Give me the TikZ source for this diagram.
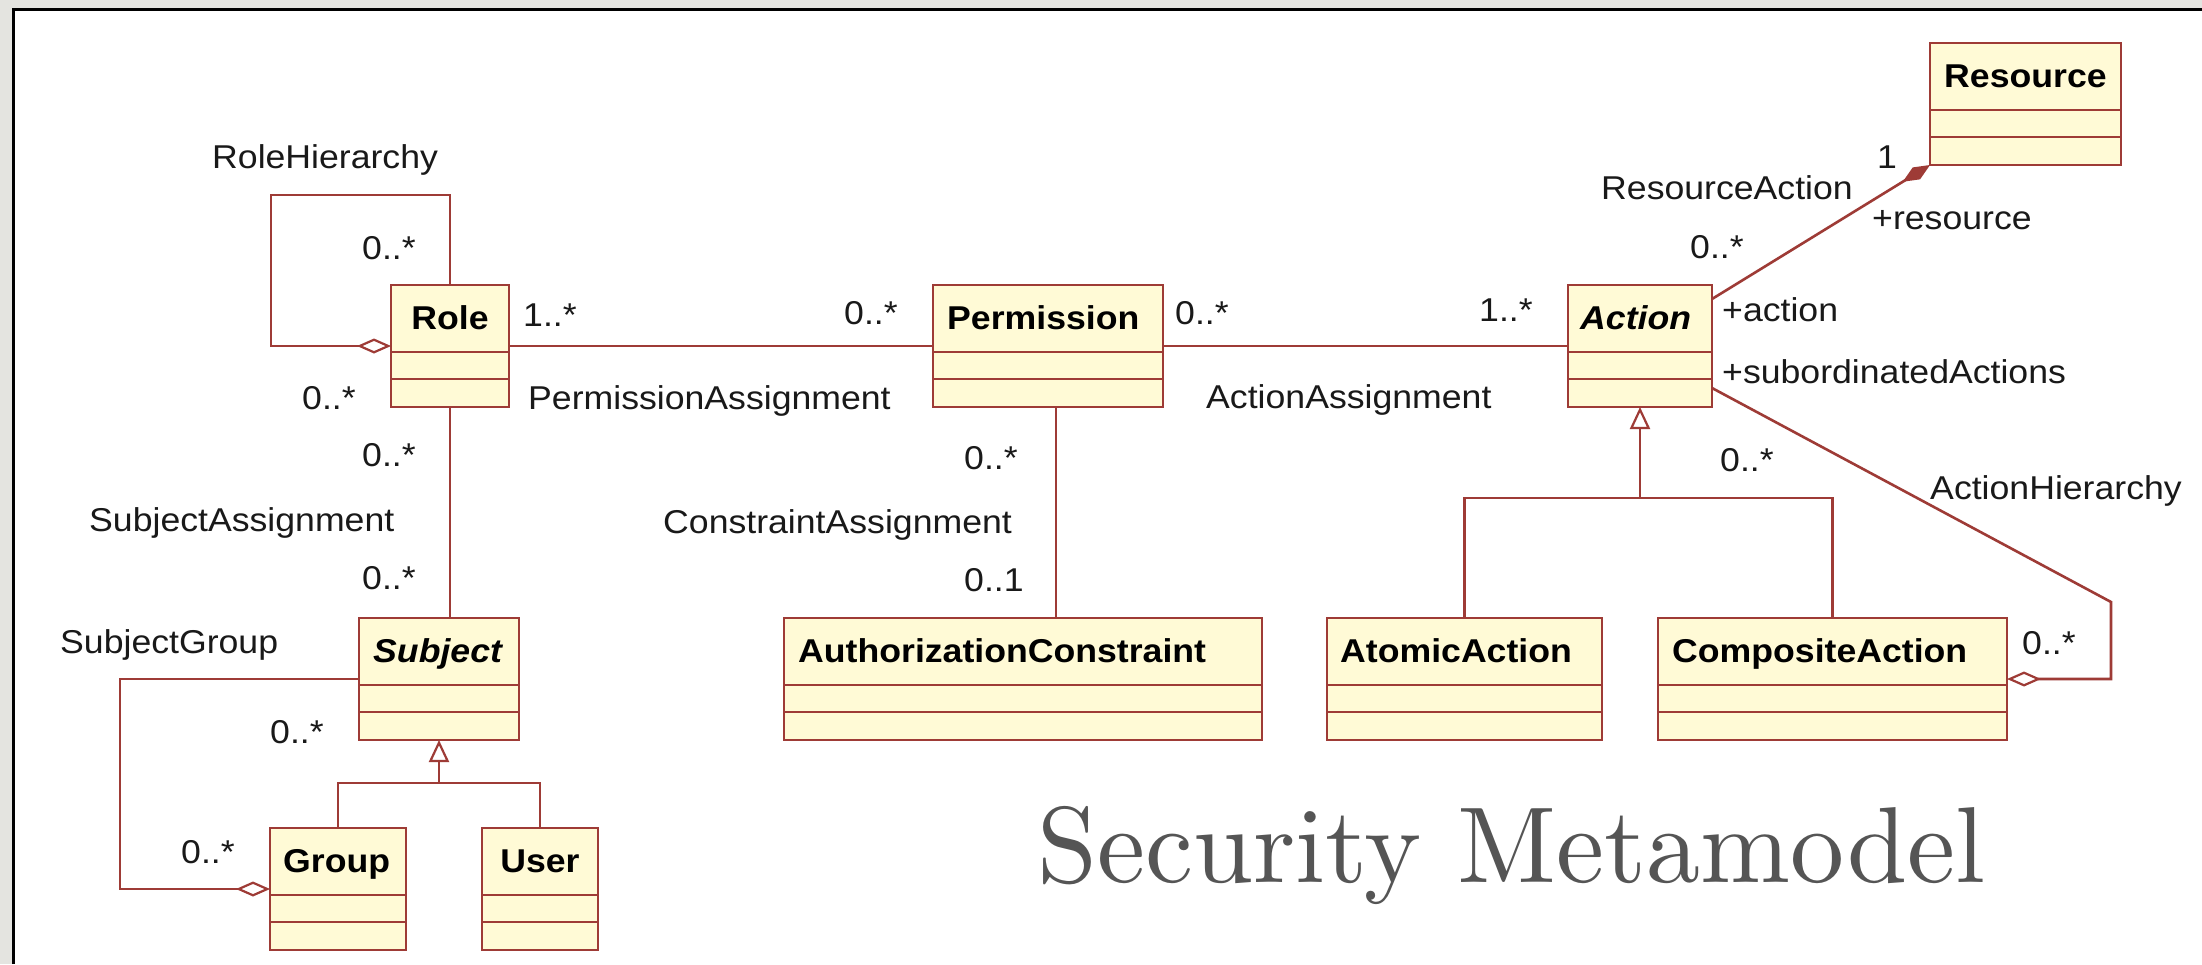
\documentclass[tikz,border=0pt]{standalone}
\usepackage{fontspec}
\usetikzlibrary{arrows.meta,calc}

\newfontfamily\umlfont[FakeStretch=1.08]{Liberation Sans}
\newfontfamily\titlefont{lmroman10-regular.otf}
\newcommand\umlsize{\fontsize{33}{36}\selectfont}

\definecolor{umlline}{RGB}{158,59,54}
\definecolor{umlfill}{RGB}{255,250,214}
\definecolor{pagegray}{RGB}{228,228,224}
\definecolor{titlegray}{RGB}{85,85,85}
\definecolor{labeltext}{RGB}{25,25,25}

\tikzset{
  cls/.style={draw=umlline, fill=umlfill, line width=2.6pt, inner sep=0pt,
              outer sep=0pt, minimum height=122pt},
  divider/.style={draw=umlline, line width=2.4pt},
  assoc/.style={draw=umlline, line width=2.6pt},
  clsname/.style={font=\umlfont\umlsize\bfseries, inner sep=0pt, anchor=base west, text=black},
  clsabstract/.style={clsname, font=\umlfont\umlsize\bfseries\itshape},
  lbl/.style={font=\umlfont\umlsize, inner sep=0pt, anchor=base west, text=labeltext},
  agg/.style={-{Diamond[open, length=34pt, width=15pt, line width=2.2pt]}},
  compo/.style={-{Diamond[length=32pt, width=14pt, fill=umlline]}},
  gen/.style={-{Triangle[open, length=22pt, width=20pt, line width=2.2pt]}},
}

% the two attribute/operation rules below a class header
\newcommand\classrules[1]{%
  \draw[divider] ($(#1.north west)+(0,67)$) -- ($(#1.north east)+(0,67)$);
  \draw[divider] ($(#1.north west)+(0,94)$) -- ($(#1.north east)+(0,94)$);
}

\begin{document}
\begin{tikzpicture}[x=1pt, y=-1pt]
\useasboundingbox (0,0) rectangle (2202,964);

% page frame
\fill[pagegray] (0,0) rectangle (2202,964);
\fill[white] (13,9) rectangle (2202,964);
\draw[black, line width=3pt] (13,964) -- (13,9) -- (2202,9);

% classes
\node[cls, minimum width=118pt] (role)       at (450,346)    {};
\node[cls, minimum width=230pt] (permission) at (1048,346)   {};
\node[cls, minimum width=144pt] (action)     at (1640,346)   {};
\node[cls, minimum width=191pt] (resource)   at (2025.5,104) {};
\node[cls, minimum width=160pt] (subject)    at (439,679)    {};
\node[cls, minimum width=478pt] (authc)      at (1023,679)   {};
\node[cls, minimum width=275pt] (atomic)     at (1464.5,679) {};
\node[cls, minimum width=349pt] (composite)  at (1832.5,679) {};
\node[cls, minimum width=136pt] (group)      at (338,889)    {};
\node[cls, minimum width=116pt] (user)       at (540,889)    {};

\classrules{role}
\classrules{permission}
\classrules{action}
\classrules{resource}
\classrules{subject}
\classrules{authc}
\classrules{atomic}
\classrules{composite}
\classrules{group}
\classrules{user}

% class names
\node[clsname, anchor=base] (roleN) at (450,329) {Role};
\node[clsname] (permissionN) at (947,329)  {Permission};
\node[clsabstract] (actionN) at (1580,329) {Action};
\node[clsname] (resourceN)   at (1944,87)  {Resource};
\node[clsabstract] (subjectN) at (373,662) {Subject};
\node[clsname] (authcN)      at (798,662)  {AuthorizationConstraint};
\node[clsname] (atomicN)     at (1340,662) {AtomicAction};
\node[clsname] (compositeN)  at (1672,662) {CompositeAction};
\node[clsname] (groupN)      at (283,872)  {Group};
\node[clsname, anchor=base] (userN) at (540,872) {User};

% associations
\draw[assoc, agg] (role.north) -- ++(0,-90) -- ++(-179,0) -- ++(0,151) -- (role.west);
\draw[assoc] (role.east) -- (permission.west);
\draw[assoc] (permission.east) -- (action.west);
\draw[assoc] (role.south) -- (role.south |- subject.north);
\draw[assoc] ([xshift=8pt]permission.south) -- ([xshift=8pt]permission.south |- authc.north);
\draw[assoc, agg] (subject.west) -- ++(-239,0) -- ++(0,210) -- (group.west);
\draw[assoc, compo] ($(action.north east)+(0,14)$) -- (resource.south west);
\coordinate (ahbend) at (2111,602);
\draw[assoc, agg] ($(action.south east)+(0,-19)$) -- (ahbend) -- (ahbend |- composite.east) -- (composite.east);

% generalizations
\coordinate (sgbar) at (439,783);
\draw[assoc] (group.north) |- (user.north |- sgbar) -- (user.north);
\draw[assoc, gen] (sgbar) -- (subject.south);
\coordinate (agbar) at (1640,498);
\draw[assoc] (atomic.north) |- (composite.north |- agbar) -- (composite.north);
\draw[assoc, gen] (agbar) -- (action.south);

% association names and role / multiplicity labels
\node[lbl] (l1)  at (212,168)  {RoleHierarchy};
\node[lbl] (l2)  at (362,259)  {0..*};
\node[lbl] (l3)  at (523,326)  {1..*};
\node[lbl] (l4)  at (302,409)  {0..*};
\node[lbl] (l5)  at (528,409)  {PermissionAssignment};
\node[lbl] (l6)  at (362,466)  {0..*};
\node[lbl] (l7)  at (89,531)   {SubjectAssignment};
\node[lbl] (l8)  at (362,589)  {0..*};
\node[lbl] (l9)  at (60,653)   {SubjectGroup};
\node[lbl] (l10) at (270,743)  {0..*};
\node[lbl] (l11) at (181,863)  {0..*};
\node[lbl] (l12) at (844,324)  {0..*};
\node[lbl] (l13) at (1175,324) {0..*};
\node[lbl] (l14) at (1206,408) {ActionAssignment};
\node[lbl] (l15) at (964,469)  {0..*};
\node[lbl] (l16) at (663,533)  {ConstraintAssignment};
\node[lbl] (l17) at (964,591)  {0..1};
\node[lbl] (l18) at (1479,321) {1..*};
\node[lbl] (l19) at (1722,321) {+action};
\node[lbl] (l20) at (1722,383) {+subordinatedActions};
\node[lbl] (l21) at (1720,471) {0..*};
\node[lbl] (l22) at (1930,499) {ActionHierarchy};
\node[lbl] (l23) at (2022,654) {0..*};
\node[lbl] (l24) at (1877,168) {1};
\node[lbl] (l25) at (1601,199) {ResourceAction};
\node[lbl] (l26) at (1872,229) {+resource};
\node[lbl] (l27) at (1690,258) {0..*};

% title
\node[anchor=base west, inner sep=0pt, text=titlegray,
      font=\titlefont\fontsize{108}{120}\selectfont] (title) at (1037,882) {Security Metamodel};
\end{tikzpicture}
\end{document}
